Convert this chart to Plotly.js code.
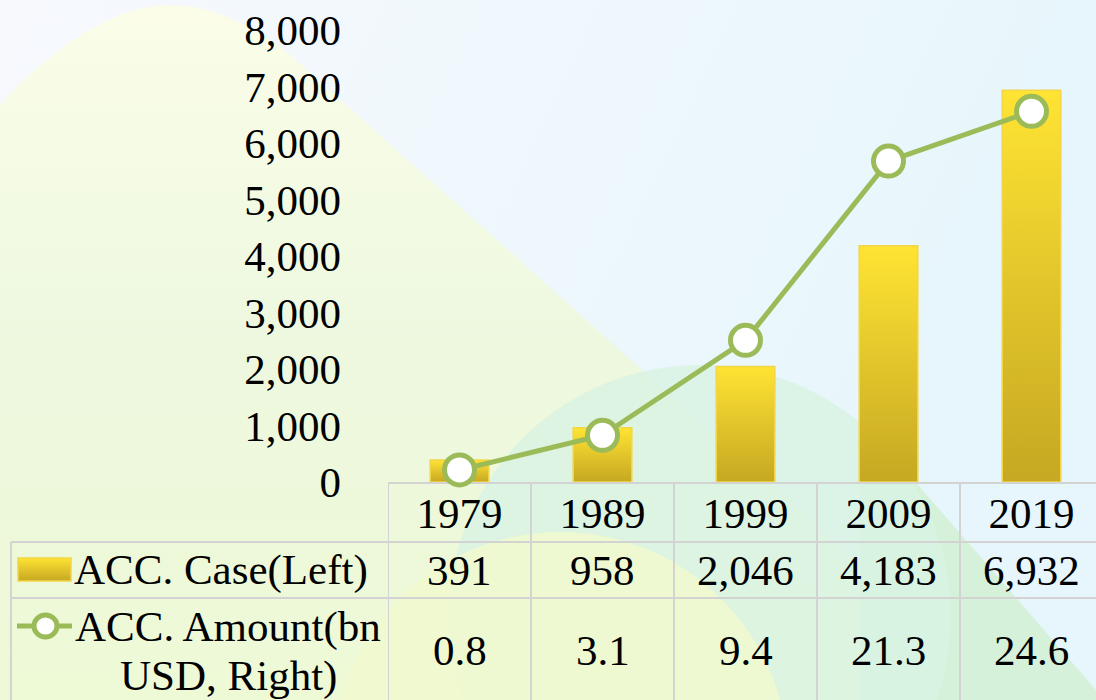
<!DOCTYPE html>
<html>
<head>
<meta charset="utf-8">
<script src="https://cdn.plot.ly/plotly-3.0.1.min.js"></script>
<style>
  html, body { margin: 0; padding: 0; background: #ffffff; }
  #wrap { position: relative; width: 1096px; height: 700px; overflow: hidden; }
  #bg { position: absolute; left: 0; top: 0; }
  #chart { position: absolute; left: 0; top: 0; width: 1096px; height: 700px; }
</style>
</head>
<body>
<div id="wrap">
  <svg id="bg" width="1096" height="700" viewBox="0 0 1096 700">
    <defs>
      <linearGradient id="bgBase" x1="0" y1="0" x2="1" y2="0.3">
        <stop offset="0" stop-color="#f7f9fd"/>
        <stop offset="1" stop-color="#e6f6fc"/>
      </linearGradient>
      <linearGradient id="mount" x1="0" y1="0" x2="0" y2="1">
        <stop offset="0" stop-color="#fbfde8"/>
        <stop offset="0.5" stop-color="#edf8df"/>
        <stop offset="1" stop-color="#eef9d6"/>
      </linearGradient>
    </defs>
    <rect x="0" y="0" width="1096" height="700" fill="url(#bgBase)"/>
    <path d="M0,700 L0,105 C45,55 110,5 170,5 C225,5 275,40 305,68 L1010,700 Z" fill="url(#mount)"/>
    <path d="M860,418 L1096,690 L1096,700 L860,700 Z" fill="#d6f1d9"/>
    <circle cx="700" cy="616" r="251" fill="#d9f3e3" opacity="0.85"/>
    <circle cx="560" cy="760" r="228" fill="#f1f9cf" opacity="0.85"/>
  </svg>
  <div id="chart"></div>
</div>
<script>
// ---- data ----
const years = ["1979", "1989", "1999", "2009", "2019"];
const accCases = [391, 958, 2046, 4183, 6932];
const accAmount = [0.8, 3.1, 9.4, 21.3, 24.6];
const caseLabel = "ACC. Case(Left)";
const amountLabel1 = "ACC. Amount(bn";
const amountLabel2 = "USD, Right)";
const leftTicks = [0, 1000, 2000, 3000, 4000, 5000, 6000, 7000, 8000];

// ---- layout geometry (pixels) ----
const L = 388, T = 30, W = 708, H = 452;
const px = p => (p - L) / W;          // pixel x -> paper x
const py = p => (T + H - p) / H;      // pixel y -> paper y

const FONT = "Liberation Serif, Times New Roman, serif";
const FS = 43;
const GREEN = "#9bbb59";
const GRID = "#d3d3d3";

const shapes = [];
function hline(y, x0, x1) {
  shapes.push({type: "line", xref: "paper", yref: "paper", x0: px(x0), x1: px(x1), y0: py(y), y1: py(y),
               line: {color: GRID, width: 2}, layer: "below"});
}
hline(483, 388, 1100);
hline(542, 11, 1100);
hline(598, 11, 1100);
// left border of legend column
shapes.push({type: "line", xref: "paper", yref: "paper", x0: px(11), x1: px(11), y0: py(542), y1: py(705),
             line: {color: GRID, width: 2}, layer: "below"});
// column borders at category boundaries
for (let i = 0; i <= years.length; i++) {
  shapes.push({type: "line", xref: "x", yref: "paper", x0: i - 0.5, x1: i - 0.5, y0: py(483), y1: py(705),
               line: {color: GRID, width: 2}, layer: "below"});
}
// legend keys in the table
shapes.push({type: "rect", xref: "paper", yref: "paper", x0: px(18), x1: px(71), y0: py(581), y1: py(558),
             fillcolor: "#e3c52a", line: {color: "#f3d548", width: 1.5}});
shapes.push({type: "line", xref: "paper", yref: "paper", x0: px(17), x1: px(72), y0: py(626), y1: py(626),
             line: {color: GREEN, width: 5}});
shapes.push({type: "circle", xref: "paper", yref: "paper", x0: px(34), x1: px(57), y0: py(637), y1: py(615),
             fillcolor: "#ffffff", line: {color: GREEN, width: 5}});

const annotations = [];
function ann(text, x, xref, y) {
  annotations.push({text: text, x: x, xref: xref, y: py(y), yref: "paper",
    showarrow: false, xanchor: "center", yanchor: "middle",
    font: {family: FONT, size: FS, color: "#000000"}});
}
years.forEach((yr, i) => {
  ann(accCases[i].toLocaleString("en-US"), i, "x", 570);
  ann(accAmount[i].toFixed(1), i, "x", 650);
});
ann(caseLabel, px(221), "paper", 570);
ann(amountLabel1, px(228), "paper", 627);
ann(amountLabel2, px(228), "paper", 676);

const traces = [
  {
    type: "bar", x: years, y: accCases, name: caseLabel,
    marker: {color: "#e3c52a", line: {color: "#f3d548", width: 1.5}},
    cliponaxis: false, hoverinfo: "skip"
  },
  {
    type: "scatter", mode: "lines+markers", x: years, y: accAmount, yaxis: "y2", name: amountLabel1 + " " + amountLabel2,
    line: {color: GREEN, width: 5},
    marker: {symbol: "circle", size: 30, color: "#ffffff", line: {color: GREEN, width: 5}},
    cliponaxis: false, hoverinfo: "skip"
  }
];

const layout = {
  width: 1096, height: 700,
  margin: {l: L, r: 1096 - L - W, t: T, b: 700 - T - H, pad: 0},
  paper_bgcolor: "rgba(0,0,0,0)", plot_bgcolor: "rgba(0,0,0,0)",
  showlegend: false,
  bargap: 0.59,
  font: {family: FONT, size: FS, color: "#000000"},
  xaxis: {
    type: "category", range: [-0.5, 4.451],
    showgrid: false, zeroline: false, showline: false, ticks: "",
    tickfont: {family: FONT, size: FS, color: "#000000"},
    ticklabelstandoff: 2, fixedrange: true
  },
  yaxis: {
    range: [0, 8000], tickvals: leftTicks, tickformat: ",d",
    showgrid: false, zeroline: false, showline: false, ticks: "",
    tickfont: {family: FONT, size: FS, color: "#000000"},
    ticklabelstandoff: 46, fixedrange: true
  },
  yaxis2: {
    overlaying: "y", side: "right", range: [0, 30], visible: false, fixedrange: true
  },
  shapes: shapes,
  annotations: annotations
};

Plotly.newPlot("chart", traces, layout, {staticPlot: true, displayModeBar: false}).then(gd => {
  // vertical gold gradient for the bars and the legend key
  const svg = gd.querySelector("svg.main-svg");
  const ns = "http://www.w3.org/2000/svg";
  let defs = svg.querySelector("defs");
  if (!defs) { defs = document.createElementNS(ns, "defs"); svg.insertBefore(defs, svg.firstChild); }
  const g = document.createElementNS(ns, "linearGradient");
  g.setAttribute("id", "goldGrad");
  g.setAttribute("x1", "0"); g.setAttribute("y1", "0"); g.setAttribute("x2", "0"); g.setAttribute("y2", "1");
  [["0", "#ffe433"], ["0.5", "#e2c52b"], ["1", "#c6a822"]].forEach(s => {
    const st = document.createElementNS(ns, "stop");
    st.setAttribute("offset", s[0]); st.setAttribute("stop-color", s[1]);
    g.appendChild(st);
  });
  defs.appendChild(g);
  gd.querySelectorAll(".barlayer .point path").forEach(p => { p.style.fill = "url(#goldGrad)"; });
  gd.querySelectorAll(".shapelayer path").forEach(p => {
    const f = p.style.fill || "";
    if (f.indexOf("227, 197, 42") >= 0 || f === "#e3c52a") { p.style.fill = "url(#goldGrad)"; }
  });
});
</script>
</body>
</html>
